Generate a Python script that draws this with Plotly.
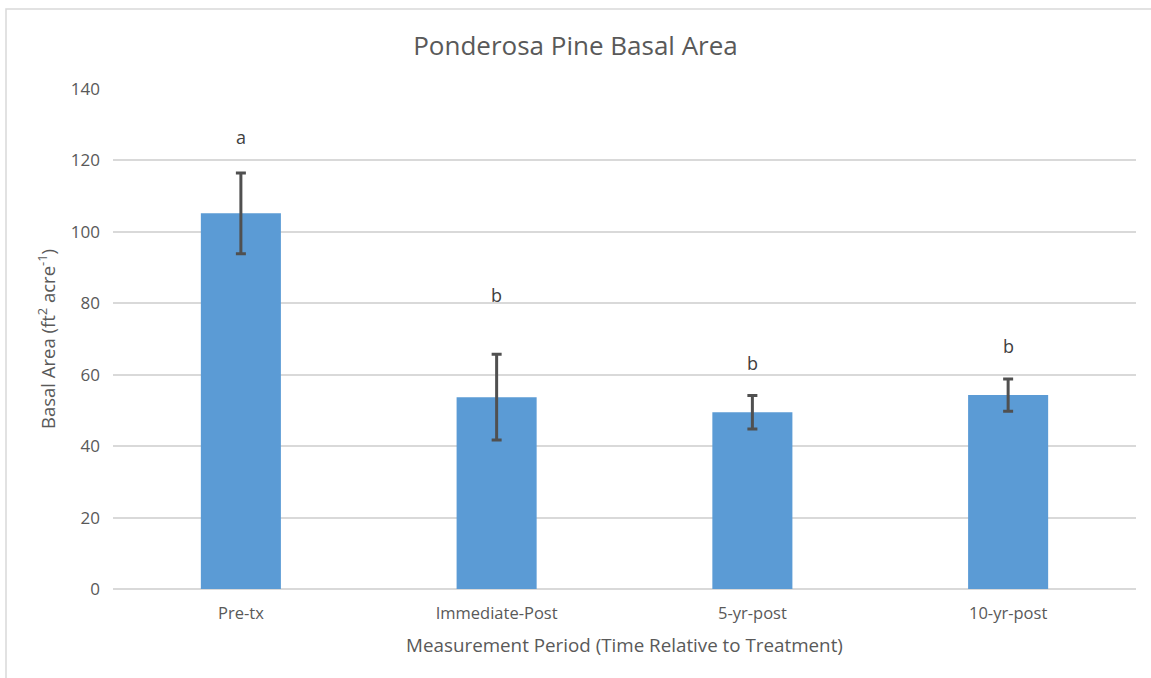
import plotly.graph_objects as go

categories = ["Pre-tx", "Immediate-Post", "5-yr-post", "10-yr-post"]
basal_area = [105.2, 53.7, 49.5, 54.3]
std_err = [11.3, 12.0, 4.7, 4.5]
letters = ["a", "b", "b", "b"]
letter_y = [126.5, 82.2, 63.2, 68.0]
y_ticks = [0, 20, 40, 60, 80, 100, 120, 140]

FONT = "Open Sans"
GRAY = "#595959"

fig = go.Figure()
fig.add_trace(go.Bar(
    x=categories, y=basal_area,
    marker=dict(color="#5B9BD5", line=dict(width=0)),
    width=0.313,
    error_y=dict(type="data", array=std_err, visible=True,
                 color="#505050", thickness=3, width=5),
    hoverinfo="x+y",
))

for c, t, yy in zip(categories, letters, letter_y):
    fig.add_annotation(x=c, y=yy, text=t, showarrow=False,
                       font=dict(family=FONT, size=18, color="#404040"),
                       xanchor="center", yanchor="middle")

fig.add_shape(type="rect", xref="paper", yref="paper",
              x0=-0.1046, x1=1.2, y0=-0.3, y1=1.16,
              line=dict(color="#d9d9d9", width=1.5), fillcolor="rgba(0,0,0,0)",
              layer="below")

fig.update_layout(
    width=1151, height=678,
    margin=dict(l=113, r=15, t=89, b=89),
    paper_bgcolor="white", plot_bgcolor="white",
    showlegend=False,
    bargap=0.2,
    title=dict(text="Ponderosa Pine Basal Area", x=0.5, xanchor="center",
               y=1 - 46 / 678, yanchor="middle",
               font=dict(family=FONT, size=26, color=GRAY)),
    xaxis=dict(showgrid=False, showline=False, ticks="",
               ticklabelstandoff=12,
               tickfont=dict(family=FONT, size=16.5, color=GRAY),
               title=dict(text="Measurement Period (Time Relative to Treatment)",
                          font=dict(family=FONT, size=18.8, color=GRAY), standoff=16)),
    yaxis=dict(range=[0, 140], tickvals=y_ticks, showgrid=True,
               gridcolor="#d9d9d9", gridwidth=1.5, zeroline=True,
               zerolinecolor="#d9d9d9", zerolinewidth=1.5, showline=False,
               ticks="", ticklabelstandoff=12,
               tickfont=dict(family=FONT, size=17, color=GRAY),
               title=dict(text="Basal Area (ft<sup>2</sup> acre<sup>-1</sup>)",
                          font=dict(family=FONT, size=18.5, color=GRAY), standoff=10)),
)

fig.write_html("out.html", config={"displayModeBar": False},
               post_script="document.body.style.margin='0';document.body.style.overflow='hidden';")
